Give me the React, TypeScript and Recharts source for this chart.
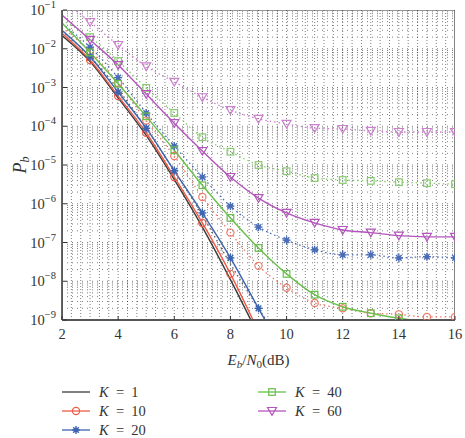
import { LineChart, Line, XAxis, YAxis, ReferenceLine, ReferenceArea } from "recharts";

const EBN0 = [2, 3, 4, 5, 6, 7, 8, 9, 10, 11, 12, 13, 14, 15, 16];

// solid curves (analysis)
const K1_ANA = [2.2e-2, 4.7e-3, 5.4e-4, 5.8e-5, 4.2e-6, 2.5e-7, 1.1e-8, 4e-10, null, null, null, null, null, null, null];
const K10_ANA = [2.5e-2, 5.1e-3, 6.0e-4, 6.8e-5, 4.9e-6, 3.2e-7, 1.55e-8, 5e-10, null, null, null, null, null, null, null];
const K20_ANA = [3.0e-2, 6.2e-3, 7.6e-4, 8.9e-5, 7.1e-6, 5.8e-7, 4.0e-8, 2.0e-9, 1e-10, null, null, null, null, null, null];
const K40_ANA = [4.6e-2, 8.0e-3, 1.25e-3, 1.8e-4, 2.4e-5, 3.0e-6, 4.3e-7, 7.2e-8, 1.55e-8, 4.5e-9, 2.2e-9, 1.5e-9, 1.1e-9, 9.5e-10, 9e-10];
const K60_ANA = [7.4e-2, 1.7e-2, 3.8e-3, 6.8e-4, 1.2e-4, 2.3e-5, 4.9e-6, 1.4e-6, 5.8e-7, 3.2e-7, 2.1e-7, 1.8e-7, 1.5e-7, 1.4e-7, 1.4e-7];

// dotted curves (simulation)
const K1_SIM = [2.8e-2, 6.3e-3, 8.9e-4, 8.9e-5, 7.1e-6, 5e-7, 2.8e-8, 2e-9, 1.6e-10, null, null, null, null, null, null];
const K10_SIM = [3.5e-2, 8.7e-3, 1.3e-3, 1.4e-4, 1.7e-5, 1.5e-6, 1.8e-7, 2.5e-8, 6.8e-9, 2.75e-9, 2.0e-9, 1.5e-9, 1.4e-9, 1.2e-9, 1.2e-9];
const K20_SIM = [4.5e-2, 1.1e-2, 1.8e-3, 2.2e-4, 3.1e-5, 4.9e-6, 8.7e-7, 2.5e-7, 1.15e-7, 6.5e-8, 4.8e-8, 4.8e-8, 4.0e-8, 4.3e-8, 4.0e-8];
const K40_SIM = [5.5e-2, 2.0e-2, 4.8e-3, 9.8e-4, 2.2e-4, 5.2e-5, 2.2e-5, 1.0e-5, 6.9e-6, 4.6e-6, 4.1e-6, 3.9e-6, 3.6e-6, 3.4e-6, 3.2e-6];
const K60_SIM = [1.8e-1, 4.9e-2, 1.25e-2, 3.5e-3, 1.4e-3, 5.6e-4, 2.6e-4, 1.55e-4, 1.15e-4, 8.9e-5, 8.5e-5, 7.6e-5, 7.1e-5, 7.1e-5, 7.1e-5];

const X_TICKS = [2, 4, 6, 8, 10, 12, 14, 16];
const Y_TICKS = [1e-9, 1e-8, 1e-7, 1e-6, 1e-5, 1e-4, 1e-3, 1e-2, 1e-1];
// minor grid: every 1/3 dB, and 2..9 within each decade
const X_GRID = Array.from({ length: 41 }, (_, i) => 2 + (i + 1) / 3);
const Y_GRID = Y_TICKS.slice(0, -1).flatMap((d) => [1, 2, 3, 4, 5, 6, 7, 8, 9].map((m) => m * d)).slice(1);

const data = EBN0.map((x, i) => ({
  x,
  k1a: K1_ANA[i],
  k10a: K10_ANA[i],
  k20a: K20_ANA[i],
  k40a: K40_ANA[i],
  k60a: K60_ANA[i],
  k1s: K1_SIM[i],
  k10s: K10_SIM[i],
  k20s: K20_SIM[i],
  k40s: K40_SIM[i],
  k60s: K60_SIM[i],
}));

type Marker = "none" | "circle" | "star" | "square" | "triangle";

function drawMarker(kind: Marker, cx: number, cy: number, color: string, key: string) {
  if (kind === "circle") {
    return <circle key={key} cx={cx} cy={cy} r={3.6} fill="none" stroke={color} strokeWidth={1.2} />;
  }
  if (kind === "square") {
    return <rect key={key} x={cx - 3.3} y={cy - 3.3} width={6.6} height={6.6} fill="none" stroke={color} strokeWidth={1.2} />;
  }
  if (kind === "triangle") {
    return (
      <path key={key} d={`M${cx - 4.5},${cy - 3.5}L${cx + 4.5},${cy - 3.5}L${cx},${cy + 4.2}Z`} fill="none" stroke={color} strokeWidth={1.2} />
    );
  }
  if (kind === "star") {
    const r = 4;
    const spokes = [0, 45, 90, 135].map((a) => {
      const rad = (a * Math.PI) / 180;
      return (
        <line key={a} x1={cx - r * Math.cos(rad)} y1={cy - r * Math.sin(rad)} x2={cx + r * Math.cos(rad)} y2={cy + r * Math.sin(rad)} stroke={color} strokeWidth={1.4} />
      );
    });
    return (
      <g key={key}>
        {spokes}
        <circle cx={cx} cy={cy} r={2.2} fill={color} />
      </g>
    );
  }
  return <g key={key} />;
}

const makeDot = (kind: Marker, color: string) => (props: any) => {
  const { cx, cy, payload, value, index, dataKey } = props;
  const k = `${dataKey}-${index}`;
  const v = Array.isArray(value) ? value[1] : value;
  if (kind === "none" || cx == null || cy == null || v == null || payload.x === 2 || v < 1e-9 || v > 1e-1) return <g key={k} />;
  return drawMarker(kind, cx, cy, color, k);
};

const SERIES = [
  { key: "k1s", color: "#5a5a5a", dotted: true, marker: "none" as Marker },
  { key: "k10s", color: "#f07a6a", dotted: true, marker: "circle" as Marker },
  { key: "k20s", color: "#4a6cb5", dotted: true, marker: "star" as Marker },
  { key: "k40s", color: "#86cc6c", dotted: true, marker: "square" as Marker },
  { key: "k60s", color: "#cc80cf", dotted: true, marker: "triangle" as Marker },
  { key: "k1a", color: "#3a3a3a", dotted: false, marker: "none" as Marker },
  { key: "k10a", color: "#ef5b47", dotted: false, marker: "circle" as Marker },
  { key: "k20a", color: "#3d64b0", dotted: false, marker: "star" as Marker },
  { key: "k40a", color: "#68c04a", dotted: false, marker: "square" as Marker },
  { key: "k60a", color: "#b455bd", dotted: false, marker: "triangle" as Marker },
];

const LEGEND = [
  { label: "1", color: "#3a3a3a", marker: "none" as Marker },
  { label: "10", color: "#ef5b47", marker: "circle" as Marker },
  { label: "20", color: "#3d64b0", marker: "star" as Marker },
  { label: "40", color: "#68c04a", marker: "square" as Marker },
  { label: "60", color: "#b455bd", marker: "triangle" as Marker },
];

const FONT = "'Liberation Serif', 'DejaVu Serif', serif";
const GRID_V = { stroke: "#000", strokeWidth: 1, strokeDasharray: "1 2", strokeOpacity: 0.5 };
const GRID_H = { stroke: "#000", strokeWidth: 1, strokeDasharray: "1 4", strokeOpacity: 0.5 };

const YTick = (props: any) => {
  const { x, y, payload } = props;
  const e = Math.round(Math.log10(payload.value));
  return (
    <g>
      <line x1={x + 6} x2={x + 10} y1={y} y2={y} stroke="#333" strokeWidth={1} />
      <text x={x - 1} y={y + 5} textAnchor="end" fontFamily={FONT} fontSize={14.5} fill="#333">
        10<tspan dy={-7} fontSize={10.5}>{`\u2212${-e}`}</tspan>
      </text>
    </g>
  );
};

const XTick = (props: any) => {
  const { x, y, payload } = props;
  return (
    <g>
      <line x1={x} x2={x} y1={y - 6} y2={y - 10} stroke="#333" strokeWidth={1} />
      <text x={x} y={y + 13} textAnchor="middle" fontFamily={FONT} fontSize={14.5} fill="#333">
        {payload.value}
      </text>
    </g>
  );
};

function LegendItem({ item }: { item: (typeof LEGEND)[number] }) {
  return (
    <div style={{ display: "flex", alignItems: "center", height: 14, lineHeight: "14px", marginBottom: 5 }}>
      <svg width={28} height={12} style={{ marginRight: 9 }}>
        <line x1={0} x2={28} y1={6} y2={6} stroke={item.color} strokeWidth={1.3} />
        {drawMarker(item.marker, 14, 6, item.color, "m")}
      </svg>
      <span style={{ fontFamily: FONT, fontSize: 14.5, color: "#333", whiteSpace: "pre" }}>
        <i>K</i>
        {`  =  ${item.label}`}
      </span>
    </div>
  );
}

export default function App() {
  return (
    <div style={{ position: "absolute", left: 0, top: 0, width: 465, height: 438, background: "#fff", overflow: "hidden" }}>
      <LineChart width={465} height={438} data={data} margin={{ top: 10, right: 10, left: 2, bottom: 88 }}>
        <XAxis
          type="number"
          dataKey="x"
          domain={[2, 16]}
          ticks={X_TICKS}
          allowDataOverflow
          height={30}
          tickSize={0}
          tickMargin={6}
          tick={<XTick />}
          axisLine={{ stroke: "#555", strokeWidth: 1.8 }}
          label={{
            content: (p: any) => {
              const vb = p.viewBox;
              return (
                <text x={vb.x + vb.width / 2} y={vb.y + 45} textAnchor="middle" fontFamily={FONT} fontSize={15} fill="#333">
                  <tspan fontStyle="italic">E</tspan>
                  <tspan fontStyle="italic" fontSize={11} dy={3}>b</tspan>
                  <tspan dy={-3}>/</tspan>
                  <tspan fontStyle="italic">N</tspan>
                  <tspan fontSize={11} dy={3}>0</tspan>
                  <tspan dy={-3}>(dB)</tspan>
                </text>
              );
            },
          }}
        />
        <YAxis
          type="number"
          scale="log"
          domain={[1e-9, 1e-1]}
          ticks={Y_TICKS}
          allowDataOverflow
          width={60}
          tickSize={0}
          tickMargin={5}
          tick={<YTick />}
          axisLine={{ stroke: "#555", strokeWidth: 1.8 }}
          label={{
            content: (p: any) => {
              const vb = p.viewBox;
              const cx = vb.x + 24;
              const cy = vb.y + vb.height / 2;
              return (
                <text x={cx} y={cy} transform={`rotate(-90 ${cx} ${cy})`} textAnchor="middle" fontFamily={FONT} fontSize={18} fill="#333">
                  <tspan fontStyle="italic">P</tspan>
                  <tspan fontStyle="italic" fontSize={12} dy={3}>b</tspan>
                </text>
              );
            },
          }}
        />
        {X_GRID.map((v) => (
          <ReferenceLine key={`gx${v}`} x={v} {...GRID_V} zIndex={0} />
        ))}
        {Y_GRID.map((v) => (
          <ReferenceLine key={`gy${v}`} y={v} {...GRID_H} zIndex={0} />
        ))}
        <ReferenceArea x1={2} x2={16} y1={1e-9} y2={1e-1} fill="none" stroke="#333" strokeWidth={1.2} ifOverflow="hidden" />
        {SERIES.map((s) => (
          <Line
            key={s.key}
            dataKey={s.key}
            type="monotone"
            stroke={s.color}
            strokeWidth={s.dotted ? 1.3 : 1.4}
            strokeDasharray={s.dotted ? "1.5 3" : undefined}
            dot={makeDot(s.marker, s.color)}
            activeDot={false}
            legendType="none"
            isAnimationActive={false}
          />
        ))}
      </LineChart>
      <div style={{ position: "absolute", left: 62, top: 385 }}>
        {LEGEND.slice(0, 3).map((it) => (
          <LegendItem key={it.label} item={it} />
        ))}
      </div>
      <div style={{ position: "absolute", left: 258, top: 385 }}>
        {LEGEND.slice(3).map((it) => (
          <LegendItem key={it.label} item={it} />
        ))}
      </div>
    </div>
  );
}
